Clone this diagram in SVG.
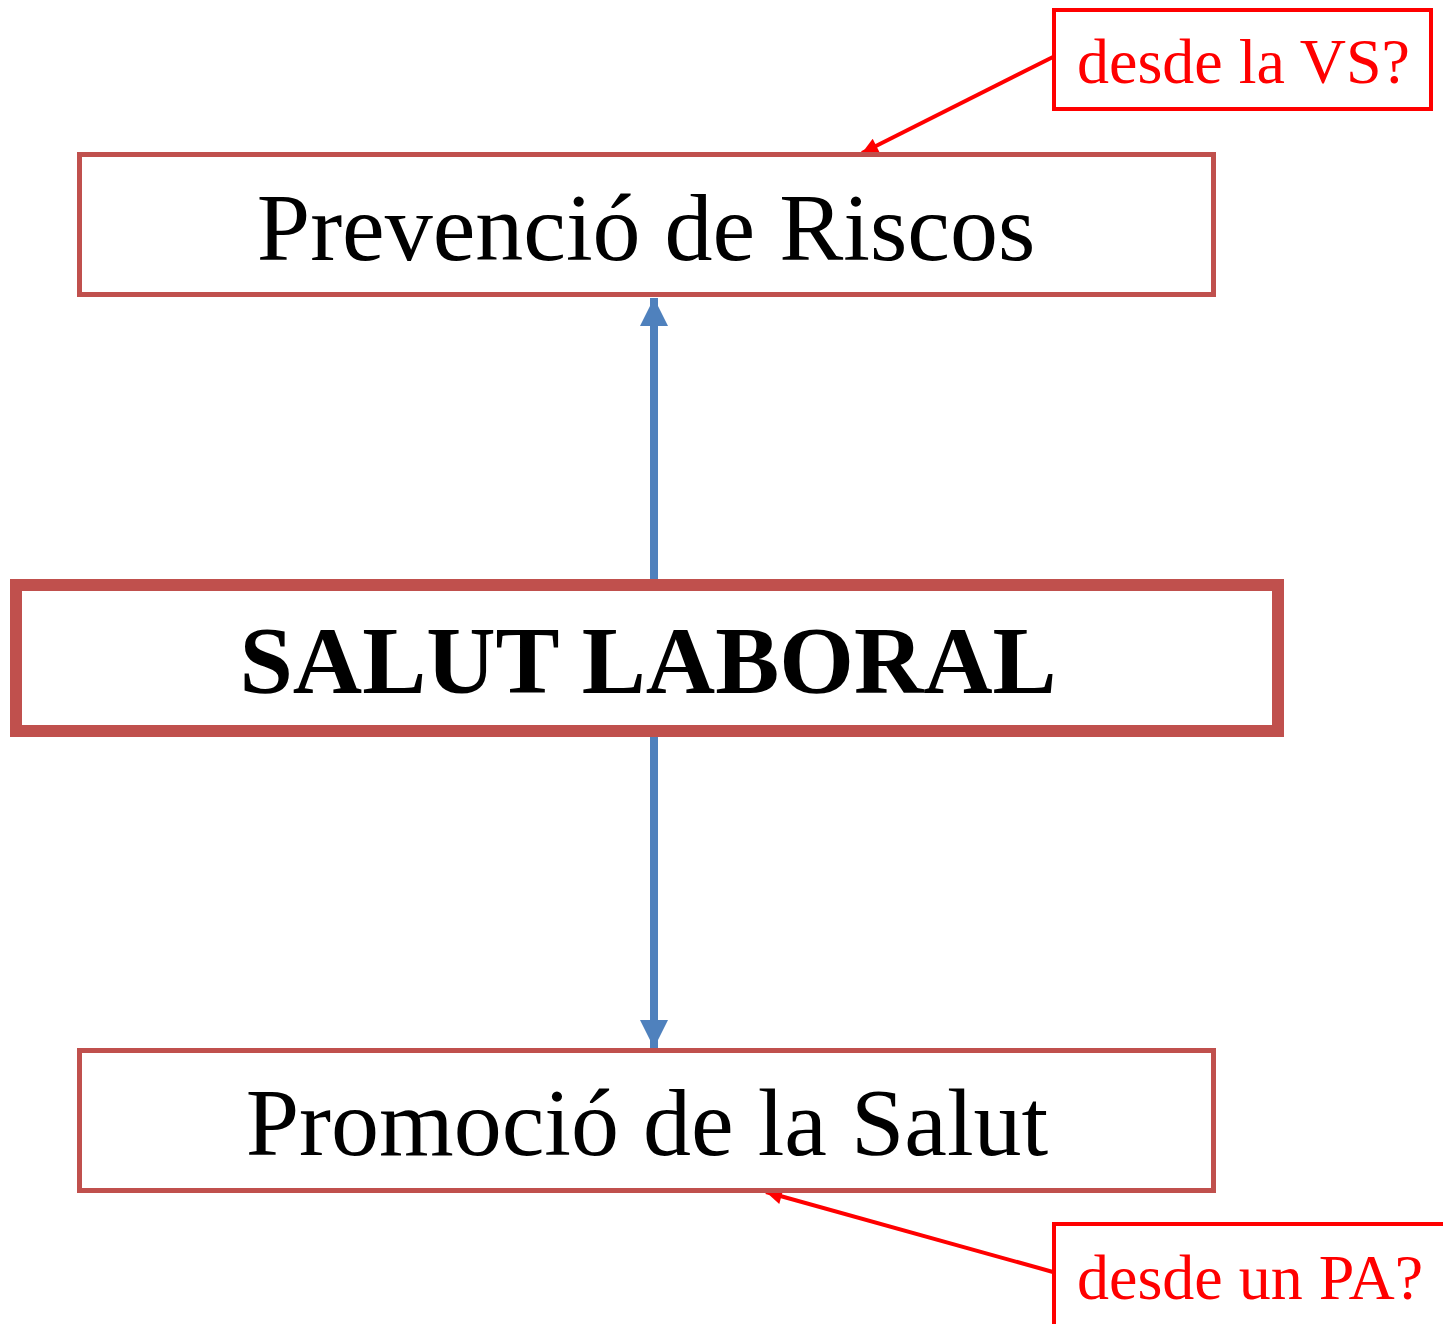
<svg xmlns="http://www.w3.org/2000/svg" width="1443" height="1324" viewBox="0 0 1443 1324">
<style>
.box{fill:#fff;stroke:#C0504D}
.t{font-family:"Liberation Serif","Times New Roman",serif;text-anchor:middle}
.call{fill:#fff;stroke:#FF0000;stroke-width:4}
.ct{font-family:"Liberation Serif","Times New Roman",serif;fill:#FF0000;font-size:64px}
</style>
<defs>
<marker id="blue" viewBox="0 0 10 10" refX="10" refY="5" markerWidth="3.5" markerHeight="3.5" orient="auto" markerUnits="strokeWidth">
<path d="M0,0 L10,5 L0,10 Z" fill="#4F81BD"/>
</marker>
<marker id="red" viewBox="0 0 10 10" refX="10" refY="5" markerWidth="4.5" markerHeight="4" orient="auto" markerUnits="strokeWidth">
<path d="M0,0 L10,5 L0,10 Z" fill="#FF0000"/>
</marker>
</defs>
<rect width="1443" height="1324" fill="#fff"/>
<g id="connectors">
<line x1="654" y1="579" x2="654" y2="298" stroke="#4F81BD" stroke-width="8" marker-end="url(#blue)"/>
<line x1="654" y1="737" x2="654" y2="1048" stroke="#4F81BD" stroke-width="8" marker-end="url(#blue)"/>
<line x1="1053" y1="57" x2="862" y2="153" stroke="#FF0000" stroke-width="4" marker-end="url(#red)"/>
<line x1="1053" y1="1272" x2="766" y2="1192" stroke="#FF0000" stroke-width="4" marker-end="url(#red)"/>
</g>
<g id="prevencio">
<rect class="box" x="79.5" y="154.5" width="1134" height="140" stroke-width="5"/>
<text class="t" x="646" y="260" font-size="96">Prevenció de Riscos</text>
</g>
<g id="salut-laboral">
<rect class="box" x="16" y="585" width="1262" height="146" stroke-width="12"/>
<text class="t" x="648" y="693" font-size="96" font-weight="bold">SALUT LABORAL</text>
</g>
<g id="promocio">
<rect class="box" x="79.5" y="1050.5" width="1134" height="140" stroke-width="5"/>
<text class="t" x="647" y="1155" font-size="96">Promoció de la Salut</text>
</g>
<g id="callout-vs">
<rect class="call" x="1054" y="10" width="377" height="99"/>
<text class="ct" x="1077" y="83">desde la VS?</text>
</g>
<g id="callout-pa">
<rect class="call" x="1054" y="1224" width="400" height="120"/>
<text class="ct" x="1077" y="1299">desde un PA?</text>
</g>
</svg>
